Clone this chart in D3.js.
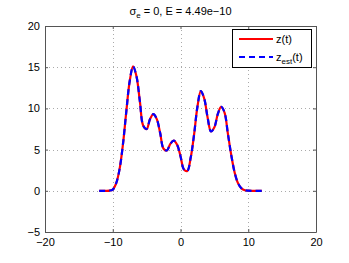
<!DOCTYPE html>
<html>
<head>
<meta charset="utf-8">
<script src="https://cdnjs.cloudflare.com/ajax/libs/d3/7.8.5/d3.min.js"></script>
<style>
  body { margin: 0; background: #fff; }
  text { font-family: "Liberation Sans", Arial, sans-serif; }
</style>
</head>
<body>
<div id="chart"></div>
<script>
// data
var tValues = [-12, -11.5, -11, -10.5, -10, -9.5, -9, -8.5, -8, -7.5, -7, -6.5, -6, -5.5, -5, -4.5, -4, -3.5, -3, -2.5, -2, -1.5, -1, -0.5,
  0, 0.5, 1, 1.5, 2, 2.5, 3, 3.5, 4, 4.5, 5, 5.5, 6, 6.5, 7, 7.5, 8, 8.5, 9, 9.5, 10, 10.5, 11, 11.5, 12];
var zValues = [0, 0, 0, 0.02, 0.15, 0.9, 2.6, 5.6, 9.6, 13.3, 15.1, 13.9, 10.9, 7.9, 7.5, 8.7, 9.3, 8.7, 7.0, 5.1, 4.9, 5.7, 6.1, 5.6,
  4.2, 2.6, 2.4, 4.0, 6.8, 10.2, 12.1, 11.2, 8.9, 7.2, 7.7, 9.3, 10.2, 9.5, 6.9, 4.3, 2.2, 0.9, 0.3, 0.07, 0.02, 0, 0, 0, 0];
var zEstValues = [0, 0, 0, 0.02, 0.15, 0.9, 2.6, 5.6, 9.6, 13.3, 15.1, 13.9, 10.9, 7.9, 7.5, 8.7, 9.3, 8.7, 7.0, 5.1, 4.9, 5.7, 6.1, 5.6,
  4.2, 2.6, 2.4, 4.0, 6.8, 10.2, 12.1, 11.2, 8.9, 7.2, 7.7, 9.3, 10.2, 9.5, 6.9, 4.3, 2.2, 0.9, 0.3, 0.07, 0.02, 0, 0, 0, 0];
var xTicks = [-20, -10, 0, 10, 20];
var yTicks = [-5, 0, 5, 10, 15, 20];
var seriesNames = ["z(t)", "z_est(t)"];

var W = 349, H = 263;
var margin = {left: 45, right: 33, top: 26, bottom: 31};
var width = W - margin.left - margin.right,
    height = H - margin.top - margin.bottom;

var svg = d3.select("#chart")
  .append("svg")
    .attr("width", W)
    .attr("height", H)
  .append("g")
    .attr("transform", "translate(" + margin.left + "," + margin.top + ")");

var x = d3.scaleLinear().domain([-20, 20]).range([0, width]);
var y = d3.scaleLinear().domain([-5, 20]).range([height, 0]);

var fmt = function(d) { return String(d).replace("-", "\u2212"); };

// grid
svg.append("g").selectAll("line")
  .data(xTicks.slice(1, -1))
  .enter().append("line")
    .attr("x1", function(d) { return Math.round(x(d)) + 0.5; })
    .attr("x2", function(d) { return Math.round(x(d)) + 0.5; })
    .attr("y1", 0).attr("y2", height)
    .attr("stroke", "#aaa").attr("stroke-dasharray", "1,3");
svg.append("g").selectAll("line")
  .data(yTicks.slice(1, -1))
  .enter().append("line")
    .attr("y1", function(d) { return Math.round(y(d)) + 0.5; })
    .attr("y2", function(d) { return Math.round(y(d)) + 0.5; })
    .attr("x1", 0).attr("x2", width)
    .attr("stroke", "#aaa").attr("stroke-dasharray", "1,3");

// axes (ticks inward, box on)
var xAxis = svg.append("g")
  .attr("transform", "translate(0," + height + ")")
  .call(d3.axisBottom(x).tickValues(xTicks).tickSizeInner(-3).tickSizeOuter(0).tickPadding(6).tickFormat(fmt));
var yAxis = svg.append("g")
  .call(d3.axisLeft(y).tickValues(yTicks).tickSizeInner(-3).tickSizeOuter(0).tickPadding(5).tickFormat(fmt));
svg.append("g")
  .call(d3.axisTop(x).tickValues(xTicks).tickSizeInner(-3).tickSizeOuter(0).tickFormat(""));
svg.append("g")
  .attr("transform", "translate(" + width + ",0)")
  .call(d3.axisRight(y).tickValues(yTicks).tickSizeInner(-3).tickSizeOuter(0).tickFormat(""));

svg.selectAll(".domain").attr("stroke", "#555");
svg.selectAll(".tick line").attr("stroke", "#555");
svg.selectAll(".tick text").attr("font-size", 11).attr("fill", "#000")
  .style("font-family", "Liberation Sans, Arial, sans-serif");
xAxis.selectAll(".tick text").attr("dy", "0.71em");

// lines
var pts = function(vals) { return tValues.map(function(t, i) { return [t, vals[i]]; }); };
var line = d3.line()
  .x(function(d) { return x(d[0]); })
  .y(function(d) { return y(d[1]); })
  .curve(d3.curveCatmullRom.alpha(0.5));

svg.append("path")
  .datum(pts(zValues))
  .attr("fill", "none")
  .attr("stroke", "#ff0000")
  .attr("stroke-width", 2.2)
  .attr("d", line);

svg.append("path")
  .datum(pts(zEstValues))
  .attr("fill", "none")
  .attr("stroke", "#0000ff")
  .attr("stroke-width", 2.2)
  .attr("stroke-dasharray", "6,4")
  .attr("d", line);

// title
var title = svg.append("text")
  .attr("x", width / 2)
  .attr("y", -11)
  .attr("text-anchor", "middle")
  .attr("font-size", 11);
title.append("tspan").text("\u03c3");
title.append("tspan").attr("font-size", 8).attr("dy", 3).text("e");
title.append("tspan").attr("dy", -3).text(" = 0, E = 4.49e\u221210");

// legend
var lg = svg.append("g").attr("transform", "translate(" + (width - 84) + ",3)");
lg.append("rect")
  .attr("x", 0.5).attr("y", 0.5)
  .attr("width", 79).attr("height", 38)
  .attr("fill", "#fff").attr("stroke", "#000");
var lColors = ["#ff0000", "#0000ff"], lDash = [null, "6,4"];
seriesNames.forEach(function(name, i) {
  var yy = 10 + i * 18;
  lg.append("line")
    .attr("x1", 7).attr("x2", 41)
    .attr("y1", yy).attr("y2", yy)
    .attr("stroke", lColors[i]).attr("stroke-width", 2.2)
    .attr("stroke-dasharray", lDash[i]);
  var t = lg.append("text")
    .attr("x", 44).attr("y", yy + 4)
    .attr("font-size", 11);
  if (name.indexOf("_") >= 0) {
    t.append("tspan").text("z");
    t.append("tspan").attr("font-size", 8).attr("dy", 3).text("est");
    t.append("tspan").attr("dy", -3).text("(t)");
  } else {
    t.text(name);
  }
});
</script>
</body>
</html>
